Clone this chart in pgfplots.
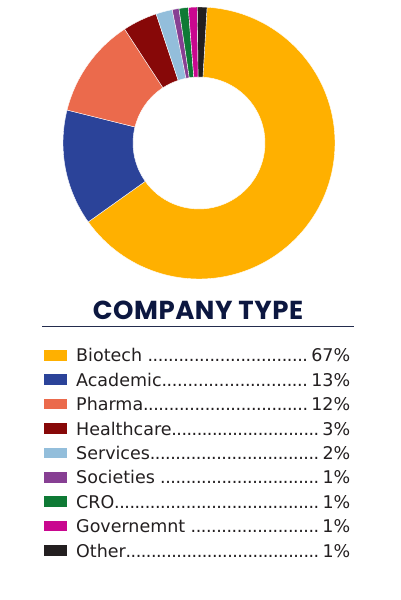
\documentclass[border=0pt]{standalone}
\usepackage{pgfplots}
\usepackage{pgfplotstable}
\pgfplotsset{compat=1.18}
\usepackage{fontspec}
\setmainfont{DejaVu Sans}
\newfontfamily\titlefont{Poppins}[LetterSpace=2]

\definecolor{cBiotech}{HTML}{FFB000}
\definecolor{cAcademic}{HTML}{2B4399}
\definecolor{cPharma}{HTML}{EB6A4C}
\definecolor{cHealthcare}{HTML}{870808}
\definecolor{cServices}{HTML}{93BEDB}
\definecolor{cSocieties}{HTML}{873F93}
\definecolor{cCRO}{HTML}{0E7A35}
\definecolor{cGovernment}{HTML}{C9078F}
\definecolor{cOther}{HTML}{231F20}
\definecolor{navy}{HTML}{0C1740}
\definecolor{txt}{HTML}{231F20}

% slice shares as drawn (degrees = share * 3.6)
\pgfplotstableread[col sep=comma]{
name,value,color
Biotech,64.2,cBiotech
Academic,13.75,cAcademic
Pharma,11.9,cPharma
Healthcare,4.1,cHealthcare
Services,1.95,cServices
Societies,0.8,cSocieties
CRO,1.1,cCRO
Governemnt,1.05,cGovernment
Other,1.15,cOther
}\slices

\newcommand\mydots{\xleaders\hbox to 0.29em{\hss.\hss}\hfill\kern3.5pt}
\newcommand\legrow[4]{%
  \pgfmathsetmacro\yy{238-24.4*#1}%
  \edef\temp{\noexpand\fill[#2] (axis cs:44,\yy+1.3) rectangle (axis cs:67,\yy+12);
  \noexpand\node[anchor=base west, inner sep=0, text=txt, font=\noexpand\fontsize{17.5}{20}\noexpand\selectfont] at (axis cs:76,\yy) {\noexpand\makebox[274pt][l]{#3\noexpand\mydots#4\noexpand\%}};}%
  \temp}

\begin{document}
\begin{tikzpicture}
\begin{axis}[
  width=400pt, height=600pt, scale only axis,
  xmin=0, xmax=400, ymin=0, ymax=600,
  hide axis, clip=false,
]
\path (axis cs:0,0) rectangle (axis cs:400,600);
\pgfplotstablegetrowsof{\slices}
\pgfmathtruncatemacro\N{\pgfplotsretval-1}
\gdef\cum{86.6}
\pgfplotsforeachungrouped \i in {0,...,\N}{%
  \pgfplotstablegetelem{\i}{value}\of\slices \let\v\pgfplotsretval
  \pgfplotstablegetelem{\i}{color}\of\slices \let\c\pgfplotsretval
  \pgfmathsetmacro\a{\cum}%
  \pgfmathsetmacro\b{\cum-3.6*\v}%
  \pgfmathsetmacro\xa{199+136*cos(\a)}%
  \pgfmathsetmacro\ya{457+136*sin(\a)}%
  \pgfmathsetmacro\xb{199+66*cos(\b)}%
  \pgfmathsetmacro\yb{457+66*sin(\b)}%
  \edef\temp{\noexpand\fill[\c, draw=white, line width=0.4pt] (axis cs:\xa,\ya) arc[start angle=\a, end angle=\b, radius=136] -- (axis cs:\xb,\yb) arc[start angle=\b, end angle=\a, radius=66] -- cycle;}%
  \temp
  \xdef\cum{\b}%
}

\node[anchor=base, inner sep=0, text=navy, font=\titlefont\bfseries\fontsize{26}{30}\selectfont] at (axis cs:198,280) {COMPANY TYPE};
\draw[color=navy!80!gray, line width=1pt] (axis cs:42,273) -- (axis cs:354,273);

\legrow{0}{cBiotech}{Biotech }{67}
\legrow{1}{cAcademic}{Academic}{13}
\legrow{2}{cPharma}{Pharma}{12}
\legrow{3}{cHealthcare}{Healthcare}{3}
\legrow{4}{cServices}{Services}{2}
\legrow{5}{cSocieties}{Societies }{1}
\legrow{6}{cCRO}{CRO}{1}
\legrow{7}{cGovernment}{Governemnt }{1}
\legrow{8}{cOther}{Other}{1}
\end{axis}
\end{tikzpicture}
\end{document}
